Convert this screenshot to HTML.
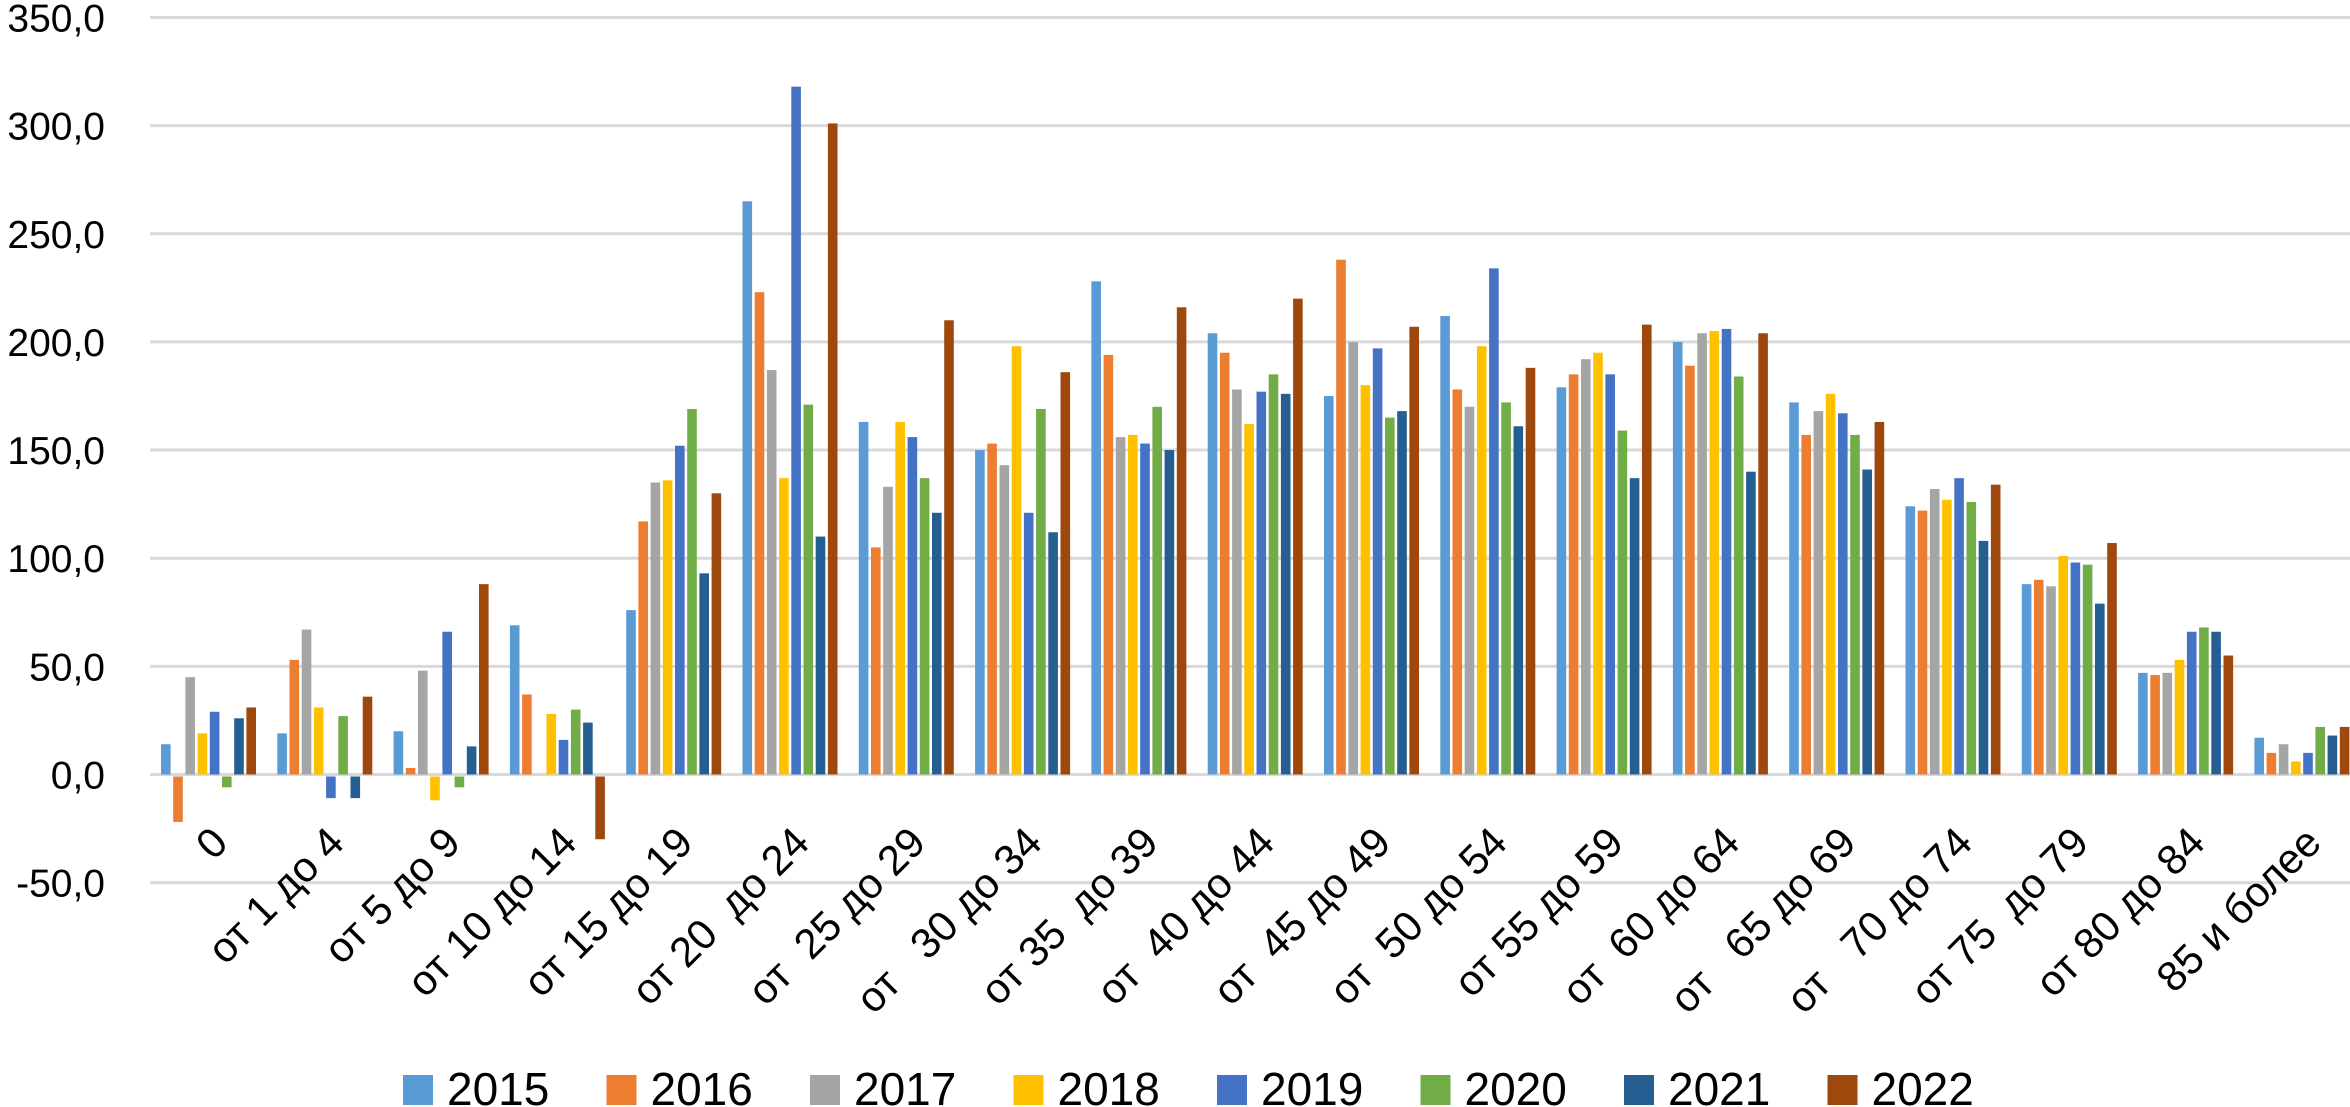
<!DOCTYPE html>
<html><head><meta charset="utf-8"><style>
html,body{margin:0;padding:0;background:#fff;}
svg{display:block;}
text{font-family:"Liberation Sans","DejaVu Sans",sans-serif;fill:#000;white-space:pre;}
</style></head><body>
<svg id="c" width="2350" height="1107" xmlns="http://www.w3.org/2000/svg" xml:space="preserve"></svg>
<script>
const svg=document.getElementById('c');
const NS='http://www.w3.org/2000/svg';
function el(t,a,txt){const e=document.createElementNS(NS,t);for(const k in a)e.setAttribute(k,a[k]);if(txt!==undefined)e.textContent=txt;svg.appendChild(e);return e;}
const y0=774.5, k=2.163;
const Y=v=>y0-v*k;
for(let v=-50;v<=350;v+=50){
  el('line',{x1:150,x2:2350,y1:Y(v),y2:Y(v),stroke:'#d9d9d9','stroke-width':3});
  el('text',{x:105,y:Y(v)+14,'text-anchor':'end','font-size':39},(v<0?'-':'')+Math.abs(v)+',0');
}
const cats=['0','от 1 до 4','от 5 до 9','от 10 до 14','от 15 до 19','от 20  до 24','от  25 до 29','от   30 до 34','от 35  до 39','от  40 до 44','от  45 до 49','от  50 до 54','от 55 до 59','от  60 до 64','от   65 до 69','от   70 до 74','от 75  до 79','от 80 до 84','85 и более'];
const data=[[14,-21,45,19,29,-5,26,31],[19,53,67,31,-10,27,-10,36],[20,3,48,-11,66,-5,13,88],[69,37,0,28,16,30,24,-29],[76,117,135,136,152,169,93,130],[265,223,187,137,318,171,110,301],[163,105,133,163,156,137,121,210],[150,153,143,198,121,169,112,186],[228,194,156,157,153,170,150,216],[204,195,178,162,177,185,176,220],[175,238,200,180,197,165,168,207],[212,178,170,198,234,172,161,188],[179,185,192,195,185,159,137,208],[200,189,204,205,206,184,140,204],[172,157,168,176,167,157,141,163],[124,122,132,127,137,126,108,134],[88,90,87,101,98,97,79,107],[47,46,47,53,66,68,66,55],[17,10,14,6,10,22,18,22]];
const col=['#5B9BD5','#ED7D31','#A5A5A5','#FFC000','#4472C4','#70AD47','#255E91','#9E480E'];
const pitch=116.3, x0=161;
cats.forEach((c,i)=>{
  const gx=x0+i*pitch;
  data[i].forEach((v,j)=>{
    if(v===0)return;
    const x=gx+j*12.2;
    const y=v>0?Y(v):y0+2;
    el('rect',{x:x,y:y,width:9.6,height:Math.abs(v)*k,fill:col[j]});
  });
  const cx=gx+48;
  el('text',{x:0,y:0,'font-size':42,'text-anchor':'end',transform:`translate(${cx+21},${845}) rotate(-45)`},c);
});
const yrs=['2015','2016','2017','2018','2019','2020','2021','2022'];
yrs.forEach((t,i)=>{
  const x=403+i*203.5;
  el('rect',{x:x,y:1075,width:30,height:30,fill:col[i]});
  el('text',{x:x+44,y:1105,'font-size':46},t);
});
</script>
</body></html>
